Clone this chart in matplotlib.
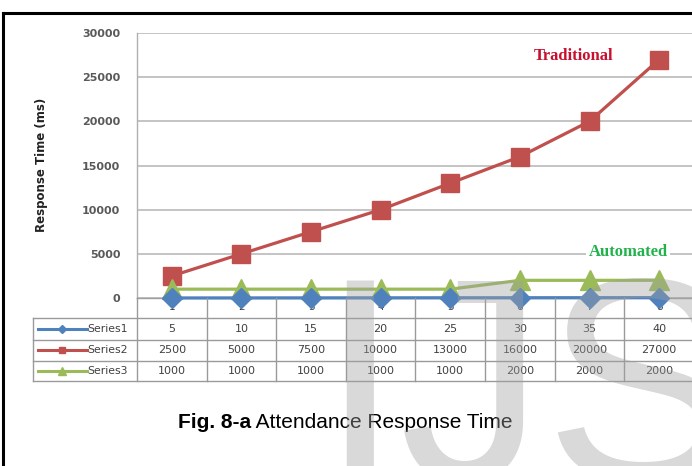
import matplotlib
matplotlib.use("Agg")
import matplotlib.pyplot as plt
from matplotlib.transforms import blended_transform_factory
from matplotlib.lines import Line2D

# ---- data ----
categories = [1, 2, 3, 4, 5, 6, 7, 8]
series_names = ["Series1", "Series2", "Series3"]
series1 = [5, 10, 15, 20, 25, 30, 35, 40]
series2 = [2500, 5000, 7500, 10000, 13000, 16000, 20000, 27000]
series3 = [1000, 1000, 1000, 1000, 1000, 2000, 2000, 2000]
yticks = [0, 5000, 10000, 15000, 20000, 25000, 30000]

W, H = 692, 466
fig = plt.figure(figsize=(W / 100, H / 100), dpi=100)
fig.patch.set_facecolor("white")

def fx(px):
    return px / W

def fy(py):
    return 1 - py / H

# axes: left 137px, right ~694px, top 33px, bottom 298px
ax = fig.add_axes([fx(137), fy(298), fx(694) - fx(137), fy(33) - fy(298)])
ax.set_xlim(0.5, 8.5)
ax.set_ylim(0, 30000)
ax.set_yticks(yticks)
ax.set_yticklabels([str(v) for v in yticks], fontsize=8, fontweight="bold", color="#595959")
ax.tick_params(axis="y", length=0, pad=12)
ax.set_xticks([])
ax.grid(axis="y", color="#c4c4c4", linewidth=1.4)
ax.set_axisbelow(True)
for s in ["top", "right"]:
    ax.spines[s].set_visible(False)
ax.spines["left"].set_color("#b0b0b0")
ax.spines["bottom"].set_color("#a0a0a0")
ax.spines["left"].set_linewidth(1.0)
ax.spines["bottom"].set_linewidth(1.0)

blue = "#4F81BD"
red = "#C0504D"
green = "#9BBB59"

ax.plot(categories, series2, color=red, lw=2.3, marker="s", ms=13.5, mec=red, mfc=red, zorder=3, clip_on=False)
ax.plot(categories, series3, color=green, lw=2.3, marker="^", ms=14, mec=green, mfc=green, zorder=4, clip_on=False)
ax.plot(categories, series1, color=blue, lw=2.3, marker="D", ms=10, mec=blue, mfc=blue, zorder=5, clip_on=False)

# annotations
fig.text(fx(574), fy(56.5), "Traditional", family="Liberation Serif", fontweight="bold",
         fontsize=12, color="#C8102E", ha="center", va="center")
fig.text(fx(628), fy(252.5), "Automated", family="Liberation Serif", fontweight="bold",
         fontsize=12, color="#22B24C", ha="center", va="center", zorder=6,
         bbox=dict(boxstyle="square,pad=0.15", fc="white", ec="none"))

# y label
fig.text(fx(42), fy(165), "Response Time (ms)", rotation=90, fontsize=8.5, fontweight="bold",
         color="#222222", ha="center", va="center")

# ---- data table under the axis ----
tr = blended_transform_factory(ax.transData, fig.transFigure)
grid_c = "#9a9a9a"
txt_c = "#404040"
row_edges = [318, 339.5, 360.5, 381]
row_centers = [329, 350, 370.5]
# category labels
for c in categories:
    ax.text(c, fy(307), str(c), transform=tr, ha="center", va="center", fontsize=7.5,
            color=txt_c, zorder=2, clip_on=False)
# vertical separators between categories
for i in range(len(categories) + 1):
    xv = 0.5 + i
    fig.add_artist(Line2D([xv, xv], [fy(298), fy(381)], transform=tr, color=grid_c, lw=1.0))
# left column vertical line
fig.add_artist(Line2D([fx(32.5), fx(32.5)], [fy(318), fy(381)], color=grid_c, lw=1.0))
# horizontal rows
for ye in row_edges:
    fig.add_artist(Line2D([fx(32.5), fx(700)], [fy(ye), fy(ye)], color=grid_c, lw=1.0))

all_series = [series1, series2, series3]
colors = [blue, red, green]
markers = ["D", "s", "^"]
msizes = [4, 5, 5.5]
for r, (name, vals, col, mk, msz) in enumerate(zip(series_names, all_series, colors, markers, msizes)):
    yc = fy(row_centers[r])
    fig.add_artist(Line2D([fx(38), fx(87)], [yc, yc], color=col, lw=2.2))
    fig.add_artist(Line2D([fx(62)], [yc], color=col, marker=mk, ms=msz, mfc=col, mec=col, lw=0))
    fig.text(fx(87.5), yc, name, fontsize=7.8, color=txt_c, ha="left", va="center")
    for c, v in zip(categories, vals):
        ax.text(c, yc, str(v), transform=tr, ha="center", va="center", fontsize=8,
                color=txt_c, clip_on=False)

# caption
t1 = fig.text(fx(178), fy(423), "Fig. 8-a", family="Liberation Sans", fontweight="bold",
              fontsize=15, color="black", ha="left", va="center", zorder=30)
fig.canvas.draw()
ax.annotate(" Attendance Response Time", xy=(1, 0.5), xycoords=t1, va="center", ha="left",
            family="Liberation Sans", fontsize=15, color="black", annotation_clip=False,
            zorder=30)

# watermark
fig.text(fx(319), fy(480), "IJS", family="Liberation Sans", fontsize=209, color="#a0a0a0",
         alpha=0.4, ha="left", va="baseline", zorder=20)

# outer border (top and left)
fig.add_artist(Line2D([fx(3), fx(700)], [fy(13), fy(13)], color="black", lw=2.2))
fig.add_artist(Line2D([fx(3), fx(3)], [fy(13), fy(480)], color="black", lw=2.2))

fig.savefig("out.png", dpi=100, facecolor="white")
